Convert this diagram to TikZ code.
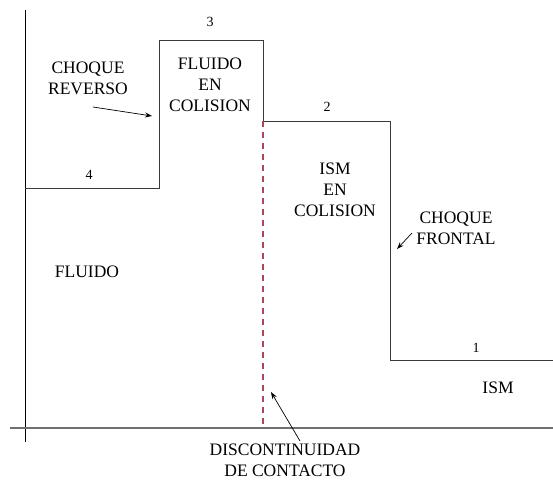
\documentclass[tikz,border=0pt]{standalone}
\usepackage{fontspec}
\setmainfont{Liberation Serif}
\newfontfamily\tnr{Liberation Serif}
\usetikzlibrary{arrows.meta}
\definecolor{linegray}{HTML}{3A3A3A}
\definecolor{axisgray}{HTML}{707070}
\definecolor{dashred}{HTML}{A8485A}
\begin{document}
\begin{tikzpicture}[x=1pt,y=-1pt,
  lbl/.style={font=\tnr\fontsize{17.5}{21}\selectfont, align=center, inner sep=0pt, text=black},
  num/.style={font=\tnr\fontsize{14}{16}\selectfont, inner sep=0pt, text=black},
  profile/.style={draw=linegray, line width=1pt},
  axis/.style={draw=axisgray, line width=1.1pt},
  pointer/.style={draw=black, line width=0.7pt, -{Stealth[length=7pt,width=5pt]}}]
\useasboundingbox (0,0) rectangle (553,480);
% axes
\coordinate (vtop) at (25,10);
\coordinate (vbot) at (25,442);
\coordinate (hl) at (10,428);
\coordinate (hr) at (553,428);
\draw[draw=black, line width=0.9pt] (vtop) -- (vbot);
\draw[axis] (hl) -- (hr);
% profile
\coordinate (p0) at (25,188);
\coordinate (p1) at (159,188);
\coordinate (p2) at (159,40);
\coordinate (p3) at (263,40);
\coordinate (p4) at (263,121);
\coordinate (p5) at (390,121);
\coordinate (p6) at (390,360);
\coordinate (p7) at (553,360);
\draw[profile] (p0) -- (p1) -- (p2) -- (p3) -- (p4) -- (p5) -- (p6) -- (p7);
% contact discontinuity
\coordinate (dbot) at (263,428);
\draw[draw=dashred, line width=1.2pt, dash pattern=on 6pt off 5pt] (p4) -- (dbot);
% numbers
\node[num] (n3) at (210,22) {3};
\node[num] (n4) at (89,175) {4};
\node[num] (n2) at (327,107) {2};
\node[num] (n1) at (476,348) {1};
% labels
\node[lbl] (rev) at (88,78) {CHOQUE\\REVERSO};
\node[lbl] (fc) at (210,85) {FLUIDO\\EN\\COLISION};
\node[lbl] (ism2) at (335,190) {ISM\\EN\\COLISION};
\node[lbl] (fr) at (456,228) {CHOQUE\\FRONTAL};
\node[lbl] (fl) at (87,272) {FLUIDO};
\node[lbl] (ism) at (498,388) {ISM};
\node[lbl] (dc) at (285,460) {DISCONTINUIDAD\\DE CONTACTO};
% pointers
\coordinate (ra) at (93,107);
\coordinate (rb) at (152,116);
\draw[pointer] (ra) -- (rb);
\coordinate (fa) at (412,233);
\coordinate (fb) at (397,249);
\draw[pointer] (fa) -- (fb);
\coordinate (da) at (300,441);
\coordinate (db) at (271,392);
\draw[pointer] (da) -- (db);
\end{tikzpicture}
\end{document}
